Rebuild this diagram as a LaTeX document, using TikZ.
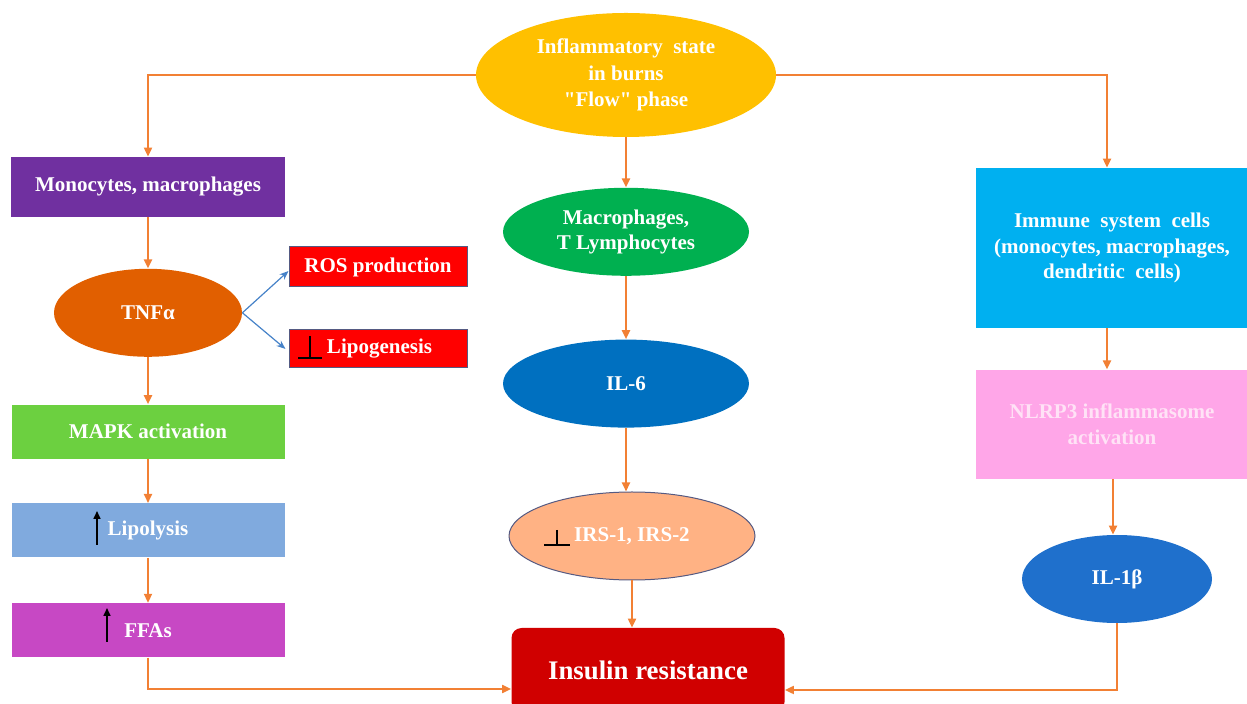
\documentclass[tikz,border=0pt]{standalone}
\usepackage{fontspec}
\setmainfont{Liberation Serif}
\usepackage{xcolor}
\usepackage{tikz}
\usetikzlibrary{arrows.meta,positioning,shapes.geometric}

\definecolor{burngold}{RGB}{255,192,0}
\definecolor{monopurple}{RGB}{112,48,160}
\definecolor{tnforange}{RGB}{225,95,0}
\definecolor{mapkgreen}{RGB}{108,208,64}
\definecolor{lipoblue}{RGB}{128,170,222}
\definecolor{ffamagenta}{RGB}{199,72,196}
\definecolor{rosred}{RGB}{255,0,0}
\definecolor{slateedge}{RGB}{85,90,130}
\definecolor{macrogreen}{RGB}{0,176,80}
\definecolor{ilblue}{RGB}{0,112,192}
\definecolor{irssalmon}{RGB}{255,178,132}
\definecolor{insred}{RGB}{208,0,0}
\definecolor{immunecyan}{RGB}{0,176,240}
\definecolor{nlrppink}{RGB}{255,166,232}
\definecolor{nlrptext}{RGB}{255,226,246}
\definecolor{ilbetablue}{RGB}{31,112,204}
\definecolor{linkorange}{RGB}{242,128,52}
\definecolor{sidelink}{RGB}{70,130,200}

\begin{document}
\begin{tikzpicture}[x=0.5pt, y=-0.5pt,
    font=\fontsize{10.5}{12.6}\selectfont\bfseries,
    box/.style={rectangle, inner sep=2pt, text=white, align=center,
                minimum width=136.5pt, minimum height=27pt},
    oval/.style={ellipse, inner sep=0pt, text=white, align=center,
                 minimum width=123pt, minimum height=44pt},
    link/.style={draw=linkorange, line width=1pt,
                 -{Triangle[length=4.5pt,width=4pt]}},
    sidearrow/.style={draw=sidelink, line width=0.6pt,
                      -{Stealth[length=4.5pt,width=3.5pt]}},
    blockmark/.style={draw=black, line width=0.8pt}]

  \useasboundingbox (0,0) rectangle (1247,704);

  % top of the chart
  \node[oval, fill=burngold, minimum width=150pt, minimum height=62pt,
        font=\fontsize{10.5}{13.3}\selectfont\bfseries]
       (burn) at (626,75)
       {Inflammatory\ \ state\\in burns\\\textquotedbl Flow\textquotedbl{} phase};

  % left column
  \node[box, fill=monopurple, minimum width=137pt, minimum height=30pt]
       (mono) at (148,187) {Monocytes, macrophages};
  \node[oval, fill=tnforange, minimum width=94pt, minimum height=44pt,
        below=25.5pt of mono] (tnf) {TNFα};
  \node[box, fill=mapkgreen, below=23.5pt of tnf] (mapk) {MAPK activation};
  \node[box, fill=lipoblue, below=22pt of mapk] (lipo) {Lipolysis};
  \node[box, fill=ffamagenta, below=22.5pt of lipo] (ffa) {FFAs};

  \node[box, fill=rosred, draw=slateedge, line width=0.5pt,
        minimum width=89pt, minimum height=20pt] (ros) at (378,267) {ROS production};
  \node[box, fill=rosred, draw=slateedge, line width=0.5pt,
        minimum width=89pt, minimum height=19pt] (lipog) at (378,349)
        {\hspace*{1.5pt}Lipogenesis};

  % middle column
  \node[oval, fill=macrogreen, below=25pt of burn] (macro)
       {Macrophages,\\T Lymphocytes\vphantom{p}};
  \node[oval, fill=ilblue, below=31.5pt of macro] (il6) {IL-6};
  \node[oval, fill=irssalmon, draw=slateedge, line width=0.5pt]
       (irs) at (632,536) {IRS-1, IRS-2};
  \node[rectangle, rounded corners=5pt, fill=insred, text=white,
        minimum width=136.5pt, minimum height=42pt,
        font=\fontsize{13.4}{16}\selectfont\bfseries]
       (ins) at (648,670) {Insulin resistance};

  % right column
  \node[box, fill=immunecyan, minimum width=136pt, minimum height=80pt]
       (immune) at (1112,248)
       {Immune\ \ system\ \ cells\\(monocytes, macrophages,\\dendritic\ \ cells)};
  \node[box, fill=nlrppink, text=nlrptext, minimum width=136pt,
        minimum height=54.5pt, below=20.5pt of immune] (nlrp)
       {NLRP3 inflammasome\\activation};
  \node[oval, fill=ilbetablue, minimum width=95pt, minimum height=44pt]
       (ilbeta) at (1117,579) {IL-1β};

  % connectors
  \draw[link] (burn.west) -| (mono.north);
  \draw[link] (burn.east) -| ([xshift=-2.5pt]immune.north);
  \draw[link] (burn) -- (macro);
  \draw[link] (mono) -- (tnf);
  \draw[link] (tnf) -- (mapk);
  \draw[link] (mapk) -- (lipo);
  \draw[link] (lipo) -- (ffa);
  \draw[link] (macro) -- (il6);
  \draw[link] (il6.south) -- (il6.south |- irs.north);
  \draw[link] (irs.south) -- (irs.south |- ins.north);
  \draw[link] ([xshift=-2.5pt]immune.south) -- ([xshift=-2.5pt]nlrp.north);
  \draw[link] ([xshift=-2pt]ilbeta.north |- nlrp.south) -- ([xshift=-2pt]ilbeta.north);

  \coordinate (insleft) at ([yshift=-9.5pt]ins.west);
  \coordinate (insright) at ([yshift=-10pt]ins.east);
  \draw[link] (ffa.south) |- (insleft);
  \draw[link] (ilbeta.south) |- (insright);

  \draw[sidearrow] (tnf.east) -- ([yshift=-2pt]ros.west);
  \draw[sidearrow] (tnf.east) -- ([xshift=-1.5pt]lipog.west);

  % up arrows and block marks
  \draw[blockmark, -{Triangle[length=4pt,width=3.5pt]}] (97,545) -- (97,511);
  \draw[blockmark, -{Triangle[length=4pt,width=3.5pt]}] (107,642) -- (107,608);
  \draw[blockmark] (310,336) -- (310,358) (298,358) -- (322,358);
  \draw[blockmark] (557,530) -- (557,545) (544,545) -- (570,545);

\end{tikzpicture}
\end{document}
